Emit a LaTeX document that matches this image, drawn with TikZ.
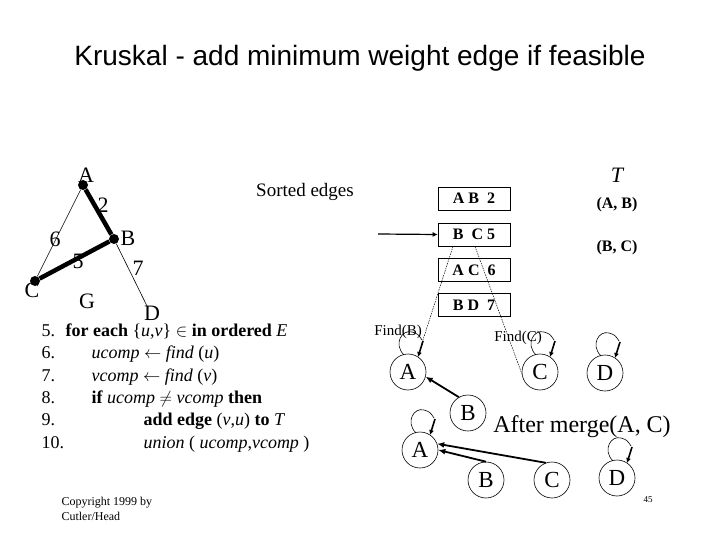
\documentclass[tikz,border=0pt]{standalone}
\usepackage{fontspec}
\setmainfont{Liberation Serif}
\newfontfamily\titlefont{Liberation Sans}
\usepackage{tikz}
\usetikzlibrary{positioning, calc, arrows.meta}

\tikzset{
  vtx/.style={circle, fill, inner sep=0pt, minimum size=10pt},
  glabel/.style={font=\fontsize{22}{24}\selectfont},
  edgebox/.style={draw, line width=0.7pt, minimum width=72pt, minimum height=23pt,
    inner sep=0pt, font=\fontsize{16}{18}\selectfont\bfseries},
  setnode/.style={circle, draw, line width=0.6pt, minimum size=36pt, inner sep=0pt,
    font=\fontsize{23}{25}\selectfont},
  findline/.style={line width=0.5pt, dash pattern=on 1.5pt off 1pt},
  parent/.style={line width=1.8pt, -{Latex[length=7pt,width=6pt]}},
  code/.style={anchor=base west, font=\fontsize{18}{20}\selectfont},
}

% loop of a root onto itself
\newcommand{\selfloop}[1]{%
  \draw[line width=0.6pt] ($(#1)+(-4,-17)$) .. controls ($(#1)+(-15,-28)$) and ($(#1)+(-6,-43)$) .. ($(#1)+(4,-40)$)
    .. controls ($(#1)+(10,-38)$) .. ($(#1)+(14,-32)$);
  \draw[line width=1.6pt, -{Latex[length=5pt,width=5pt]}] ($(#1)+(15,-31)$) -- ($(#1)+(10,-15)$);
}

\begin{document}
\begin{tikzpicture}[x=1pt,y=-1pt]
  \useasboundingbox (0,0) rectangle (720,540);

  % Title
  \node[font=\titlefont\fontsize{28}{30}\selectfont] (title) at (360,58) {Kruskal - add minimum weight edge if feasible};

  % Graph G
  \node[glabel] (la) at (86,175) {A};
  \node[glabel] (lb) at (128,238) {B};
  \node[glabel] (lc) at (32,290) {C};
  \node[glabel] (ld) at (152,313) {D};
  \node[glabel] (lg) at (87,301) {G};
  \node[glabel] (w2) at (103,205) {2};
  \node[glabel] (w6) at (55,239) {6};
  \node[glabel] (w5) at (78,261) {5};
  \node[glabel] (w7) at (138,268) {7};
  \node[vtx] (a) at (83,185) {};
  \node[vtx] (b) at (114,239) {};
  \node[vtx] (c) at (35,281) {};
  \coordinate (d) at (147,306);
  \draw[line width=0.6pt] (a) -- (c);
  \draw[line width=0.6pt] (b) -- (d);
  \draw[line width=4.5pt] (a) -- (b) -- (c);

  % Sorted edges
  \node[font=\fontsize{19}{21}\selectfont] (sorted) at (305,192) {Sorted edges};
  \node[edgebox] (e1) at (474,198.5) {A B\enspace 2};
  \node[edgebox] (e2) at (474,234.5) {B\enspace C 5};
  \node[edgebox] (e3) at (474,270) {A C\enspace 6};
  \node[edgebox] (e4) at (474,305) {B D\enspace 7};
  \coordinate (cur) at (378,234);
  \draw[line width=1.2pt, -{Latex[length=5pt,width=5pt]}] (cur) -- (e2.west);

  % Tree edges
  \node[font=\fontsize{22}{24}\selectfont\itshape] (tt) at (617,175) {T};
  \node[font=\fontsize{16}{18}\selectfont\bfseries] (tab) at (617,205) {(A, B)};
  \node[font=\fontsize{16}{18}\selectfont\bfseries] (tbc) at (617,248) {(B, C)};

  % Sets before the merge
  \node[setnode] (A1) at (408,372) {A};
  \node[setnode] (B1) at (468,413) {B};
  \node[setnode] (C1) at (540,372) {C};
  \node[setnode] (D1) at (605,373) {D};
  \selfloop{A1}
  \selfloop{C1}
  \selfloop{D1}
  \draw[parent] (B1.120) -- (A1.-15);

  % Find lines
  \coordinate (fb) at (422,343);
  \draw[findline] ([xshift=-21pt]e2.south) -- (fb);
  \draw[findline] ([xshift=1pt]e2.south) -- (C1.185);
  \node[font=\fontsize{15}{17}\selectfont] (findb) at (398,332) {Find(B)};
  \node[font=\fontsize{15}{17}\selectfont] (findc) at (518,338) {Find(C)};

  % Sets after the merge
  \node[font=\fontsize{24}{26}\selectfont] (merge) at (582,427) {After merge(A, C)};
  \node[setnode] (A2) at (420,450) {A};
  \node[setnode] (B2) at (486,480) {B};
  \node[setnode] (C2) at (552,480) {C};
  \node[setnode] (D2) at (617,478) {D};
  \selfloop{A2}
  \selfloop{D2}
  \draw[parent] (B2.north) -- (A2.east);
  \draw[parent] (C2.110) -- (A2.20);

  % Pseudocode
  \foreach \n/\y in {5/336, 6/358, 7/381, 8/403, 9/425, 10/448}
    \node[code] (n\n) at (38,\y) {\n.};
  \node[code] (s5) at (62,336) {\textbf{for each} \{\textit{u},\textit{v}\} $\in$ \textbf{in ordered} \textit{E}};
  \node[code] (s6) at (88,358) {\textit{ucomp} $\leftarrow$ \textit{find} (\textit{u})};
  \node[code] (s7) at (88,381) {\textit{vcomp} $\leftarrow$ \textit{find} (\textit{v})};
  \node[code] (s8) at (88,403) {\textbf{if} \textit{ucomp} $\neq$ \textit{vcomp} \textbf{then}};
  \node[code] (s9) at (140,425) {\textbf{add edge} (\textit{v},\textit{u}) \textbf{to} \textit{T}};
  \node[code] (s10) at (140,448) {\textit{union} ( \textit{ucomp},\textit{vcomp} )};

  % Footer
  \node[align=left, anchor=north west, font=\fontsize{12}{15}\selectfont] (copy) at (58,494) {Copyright 1999 by\\Cutler/Head};
  \node[font=\fontsize{9}{10}\selectfont] (page) at (648,500) {45};
\end{tikzpicture}
\end{document}
